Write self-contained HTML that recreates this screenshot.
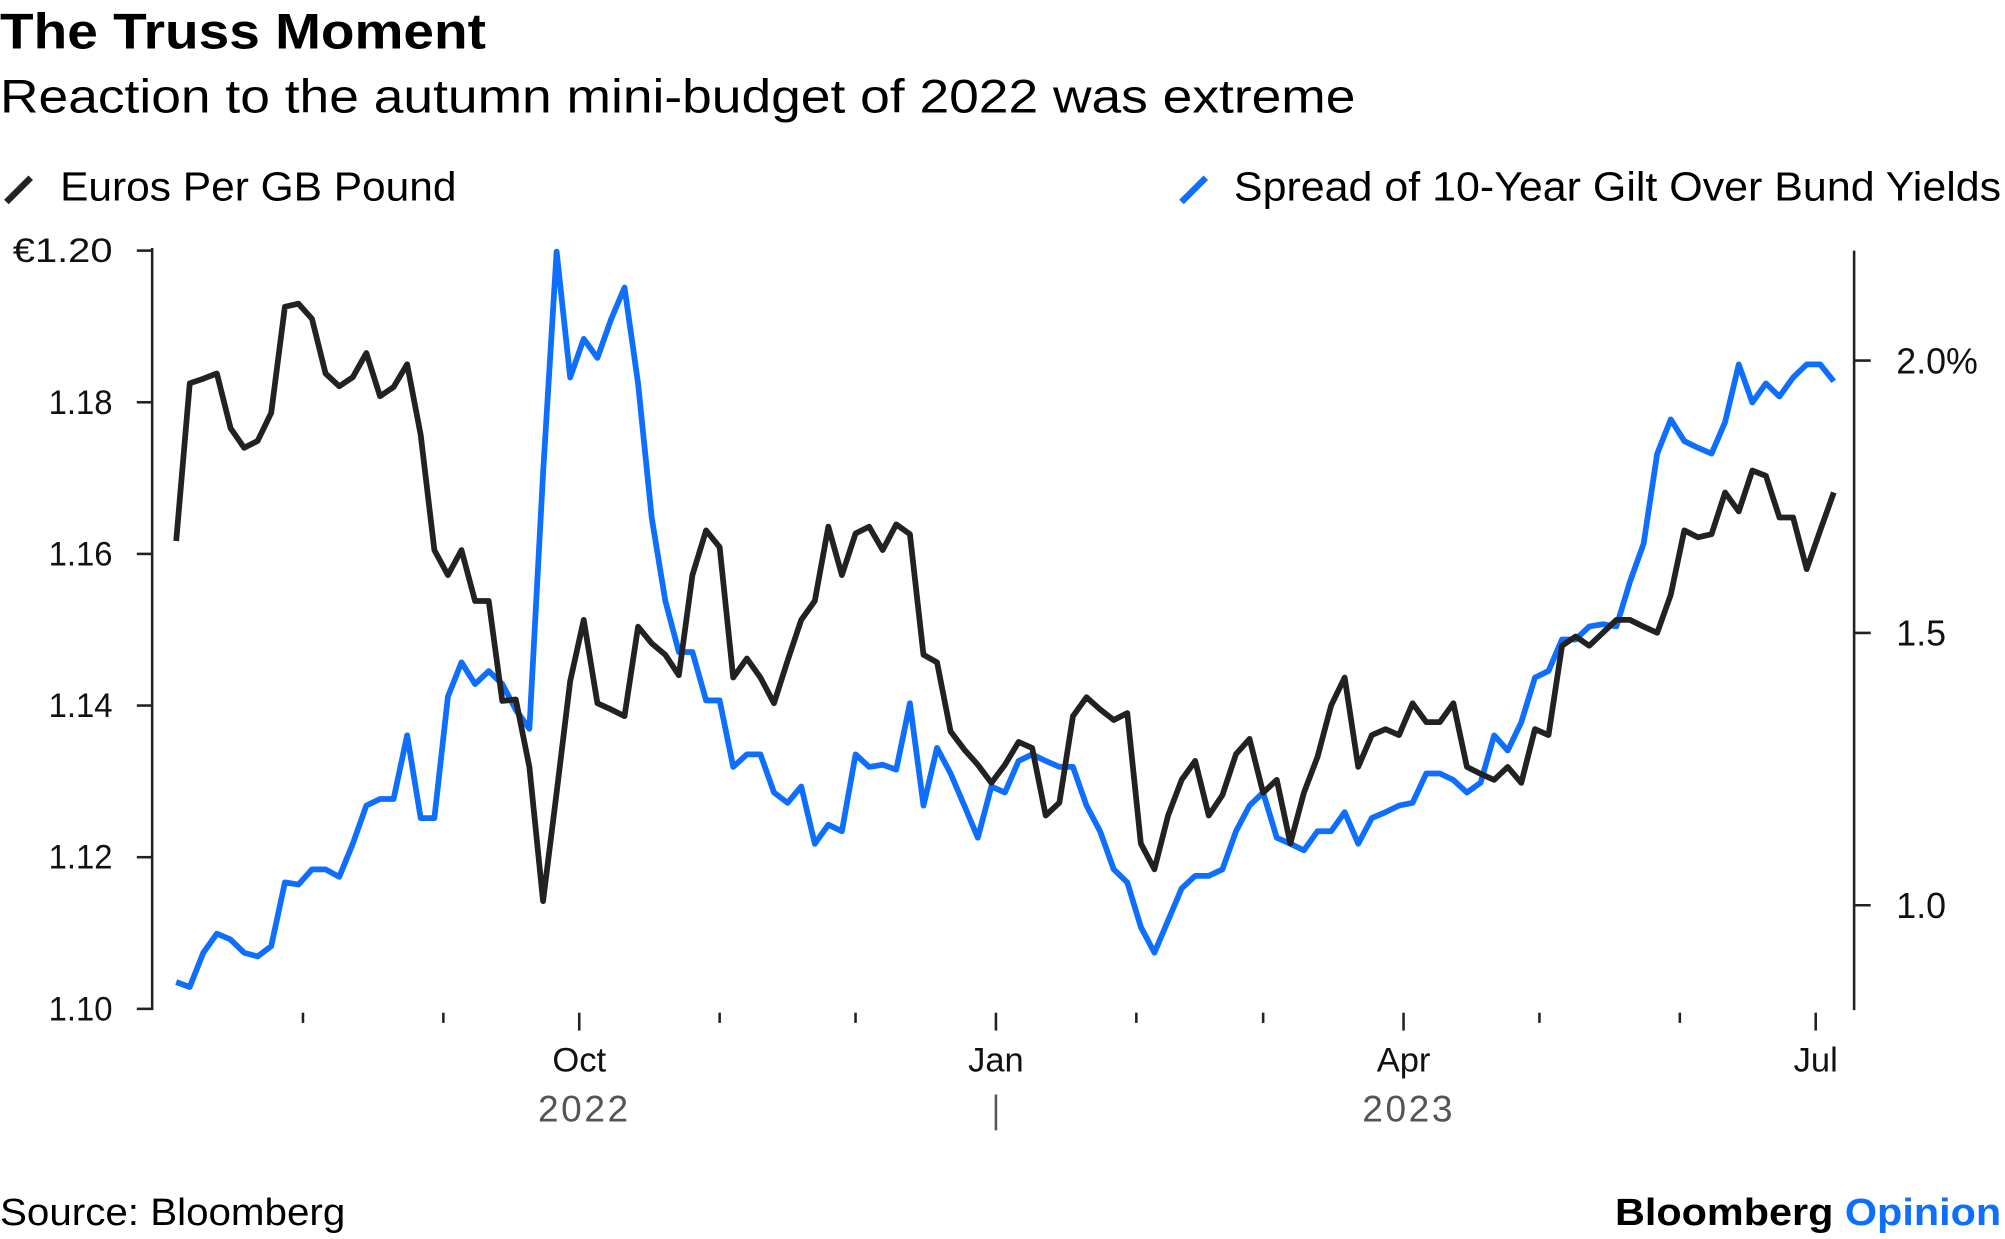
<!DOCTYPE html>
<html><head><meta charset="utf-8"><style>
html,body{margin:0;padding:0;background:#fff;}
svg{display:block;font-family:"Liberation Sans",Arial,sans-serif;}
</style></head><body>
<svg id="chart" width="2005" height="1239" viewBox="0 0 1568 969" preserveAspectRatio="none">
<text x="0" y="38" font-size="39" font-weight="bold" fill="#000" textLength="380" lengthAdjust="spacingAndGlyphs">The Truss Moment</text>
<text x="0" y="88" font-size="37" fill="#000" textLength="1060" lengthAdjust="spacingAndGlyphs">Reaction to the autumn mini-budget of 2022 was extreme</text>
<g>
<line x1="5" y1="158" x2="24" y2="139" stroke="#222" stroke-width="5"/>
<text x="47" y="157" font-size="32" fill="#000" textLength="310" lengthAdjust="spacingAndGlyphs">Euros Per GB Pound</text></g>
<g>
<line x1="924" y1="158" x2="943" y2="139" stroke="#0e6efd" stroke-width="5"/>
<text x="965" y="157" font-size="32" fill="#000" textLength="600" lengthAdjust="spacingAndGlyphs">Spread of 10-Year Gilt Over Bund Yields</text></g>
<g id="axes"></g>
<g id="series"></g>
<text x="0" y="958" font-size="30" fill="#000" textLength="270" lengthAdjust="spacingAndGlyphs">Source: Bloomberg</text>
<text x="1565" y="958" font-size="30" font-weight="bold" text-anchor="end" fill="#000" textLength="302" lengthAdjust="spacingAndGlyphs">Bloomberg <tspan fill="#0e6efd">Opinion</tspan></text>
</svg>
<script>
const eurValues=[1.1617,1.1825,1.1831,1.1838,1.1766,1.174,1.1749,1.1786,1.1926,1.193,1.191,1.1838,1.1821,1.1833,1.1865,1.1808,1.182,1.185,1.1757,1.1605,1.1572,1.1605,1.1538,1.1538,1.1406,1.1408,1.1319,1.1142,1.1285,1.1432,1.1513,1.1403,1.1395,1.1386,1.1504,1.1482,1.1467,1.144,1.1572,1.1631,1.1609,1.1437,1.1462,1.1437,1.1403,1.1459,1.1513,1.1538,1.1636,1.1572,1.1627,1.1636,1.1605,1.1639,1.1626,1.1467,1.1457,1.1366,1.1342,1.1322,1.1298,1.1322,1.1352,1.1344,1.1255,1.1272,1.1386,1.1411,1.1395,1.1381,1.139,1.1218,1.1184,1.1255,1.1302,1.1327,1.1255,1.1282,1.1336,1.1356,1.1285,1.1302,1.1218,1.1285,1.1332,1.14,1.1437,1.1319,1.1361,1.1369,1.1361,1.1403,1.1378,1.1378,1.1403,1.1319,1.131,1.1302,1.1319,1.1298,1.1369,1.1361,1.1479,1.1491,1.1479,1.1496,1.1513,1.1513,1.1504,1.1496,1.1546,1.1631,1.1622,1.1626,1.1681,1.1656,1.171,1.1703,1.1648,1.1648,1.158,1.1631,1.1681];
const spreadValues=[0.859,0.85,0.913,0.948,0.937,0.913,0.906,0.925,1.042,1.038,1.066,1.066,1.052,1.113,1.183,1.195,1.195,1.312,1.16,1.16,1.383,1.446,1.406,1.43,1.406,1.359,1.324,1.793,2.2,1.969,2.04,2.005,2.075,2.134,1.958,1.711,1.559,1.465,1.465,1.376,1.376,1.254,1.277,1.277,1.207,1.188,1.218,1.113,1.148,1.136,1.277,1.254,1.258,1.249,1.371,1.183,1.289,1.242,1.183,1.124,1.218,1.207,1.265,1.277,1.265,1.254,1.254,1.183,1.136,1.066,1.042,0.96,0.913,0.972,1.031,1.054,1.054,1.066,1.136,1.183,1.207,1.124,1.113,1.101,1.136,1.136,1.171,1.113,1.16,1.171,1.183,1.188,1.242,1.242,1.23,1.207,1.225,1.312,1.284,1.336,1.418,1.43,1.488,1.488,1.512,1.516,1.512,1.594,1.664,1.829,1.892,1.852,1.84,1.829,1.887,1.993,1.923,1.958,1.934,1.969,1.993,1.993,1.962];
const startDay=3, dayStep=3; // days since 2022-07-01
const leftTicks=[1.10,1.12,1.14,1.16,1.18,1.20];
const leftTickLabels=["1.10","1.12","1.14","1.16","1.18","€1.20"];
const rightTicks=[1.0,1.5,2.0];
const rightTickLabels=["1.0","1.5","2.0%"];
const monthTickDays=[31,62,92,123,153,184,215,243,274,304,335,365];
const monthLabels=["","","Oct","","","Jan","","","Apr","","","Jul"];
const yearLabels=[{t:"2022",d:92},{t:"2023",d:274}];

const NS="http://www.w3.org/2000/svg";
const xS=d=>453+(d-92)*3.542;
const yL=v=>196+(1.20-v)*5930;
const yR=v=>282+(2.0-v)*426;
const axes=document.getElementById('axes'), ser=document.getElementById('series');
function mk(tag,attrs,parent){const e=document.createElementNS(NS,tag);for(const k in attrs)e.setAttribute(k,attrs[k]);parent.appendChild(e);return e;}

let e=mk('line',{x1:119,y1:194,x2:119,y2:790,stroke:'#222','stroke-width':2},axes);


e=mk('line',{x1:1450,y1:196,x2:1450,y2:790,stroke:'#222','stroke-width':2},axes);


leftTicks.forEach((v,i)=>{
  const y=yL(v);
  mk('line',{x1:107,y1:y,x2:119,y2:y,stroke:'#222','stroke-width':2},axes);
  const last=leftTickLabels[i].length>4;
  const t=mk('text',{x:88,y:y+9,'font-size':27,'text-anchor':'end',fill:'#111',textLength:last?78:50,lengthAdjust:'spacingAndGlyphs'},axes);
  t.textContent=leftTickLabels[i];
  
  
});
rightTicks.forEach((v,i)=>{
  const y=yR(v);
  mk('line',{x1:1450,y1:y,x2:1463,y2:y,stroke:'#222','stroke-width':2},axes);
  const t=mk('text',{x:1483,y:y+10,'font-size':28,fill:'#111'},axes);
  t.textContent=rightTickLabels[i];
  
  
});
monthTickDays.forEach((d,i)=>{
  const x=xS(d);const major=monthLabels[i]!=="";
  mk('line',{x1:x,y1:792,x2:x,y2:major?806:800,stroke:'#222','stroke-width':2},axes);
  if(major){const t=mk('text',{x:x,y:838,'font-size':27,'text-anchor':'middle',fill:'#111'},axes);
    t.textContent=monthLabels[i];
    
    }
});
yearLabels.forEach(o=>{
  const t=mk('text',{x:xS(o.d)+4,y:877,'font-size':29,'text-anchor':'middle',fill:'#555','letter-spacing':'2'},axes);
  t.textContent=o.t;
  
  
});
e=mk('line',{x1:xS(184),y1:856,x2:xS(184),y2:884,stroke:'#555','stroke-width':2},axes);



function path(vals,yf){return vals.map((v,i)=>(i?'L':'M')+xS(startDay+dayStep*i).toFixed(1)+' '+yf(v).toFixed(1)).join(' ');}
e=mk('path',{d:path(spreadValues,yR),fill:'none',stroke:'#0e6efd','stroke-width':4.5,'stroke-linejoin':'round'},ser);


e=mk('path',{d:path(eurValues,yL),fill:'none',stroke:'#222','stroke-width':4.5,'stroke-linejoin':'round'},ser);


</script>
</body></html>
